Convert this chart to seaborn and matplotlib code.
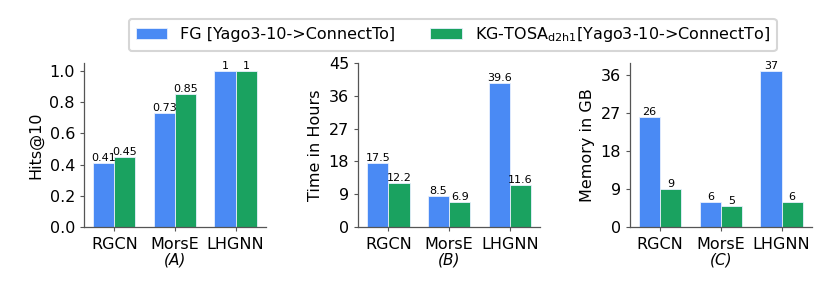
import matplotlib
matplotlib.use("Agg")
import matplotlib.pyplot as plt
import seaborn as sns
import pandas as pd

models = ["RGCN", "MorsE", "LHGNN"]
series = ["FG [Yago3-10->ConnectTo]", r"KG-TOSA$_{\mathrm{d2h1}}$[Yago3-10->ConnectTo]"]
hits_fg = [0.41, 0.73, 1.0]
hits_kg = [0.45, 0.85, 1.0]
time_fg = [17.5, 8.5, 39.6]
time_kg = [12.2, 6.9, 11.6]
mem_fg = [26, 6, 37]
mem_kg = [9, 5, 6]
ylabels = ["Hits@10", "Time in Hours", "Memory in GB"]
panel_tags = ["(A)", "(B)", "(C)"]
colors = ["#4a8af4", "#1aa260"]

sns.set_style("ticks")
plt.rcParams["font.family"] = ["DejaVu Sans"]
plt.rcParams["text.color"] = "black"
plt.rcParams["axes.labelcolor"] = "black"
plt.rcParams["xtick.color"] = "black"
plt.rcParams["ytick.color"] = "black"

fig = plt.figure(figsize=(8.31, 2.89), dpi=100)
lefts = [0.101, 0.431, 0.758]
axes = [fig.add_axes([l, 0.2145, 0.219, 0.567]) for l in lefts]

datasets = [(hits_fg, hits_kg), (time_fg, time_kg), (mem_fg, mem_kg)]
for i, (ax, (fg, kg)) in enumerate(zip(axes, datasets)):
    df = pd.DataFrame({
        "model": models * 2,
        "value": fg + kg,
        "series": [series[0]] * 3 + [series[1]] * 3,
    })
    sns.barplot(data=df, x="model", y="value", hue="series", order=models,
                hue_order=series, palette=colors, width=0.7, ax=ax,
                edgecolor="#e8f0fe", linewidth=0.6, saturation=1, legend=(i == 0))
    for c in ax.containers:
        ax.bar_label(c, fmt="{:g}", fontsize=8, padding=0, color="black")
    ax.set_ylabel(ylabels[i], fontsize=11.5)
    ax.set_xlabel(panel_tags[i], fontsize=11, style="italic", labelpad=0.5)
    ax.tick_params(axis="both", labelsize=11.5, length=3, width=0.8,
                   color="#555555", labelcolor="black")
    ax.tick_params(axis="x", pad=4)
    ax.set_xlim(-0.5, 2.5)
    for s in ["left", "bottom"]:
        ax.spines[s].set_color("#555555")
        ax.spines[s].set_linewidth(0.9)
    sns.despine(ax=ax)

axes[0].set_yticks([0.0, 0.2, 0.4, 0.6, 0.8, 1.0])
axes[1].set_ylim(0, 45)
axes[1].set_yticks([0, 9, 18, 27, 36, 45])
axes[2].set_ylim(0, 38.85)
axes[2].set_yticks([0, 9, 18, 27, 36])

handles, labels = axes[0].get_legend_handles_labels()
axes[0].get_legend().remove()
leg = fig.legend(handles, labels, loc="center", bbox_to_anchor=(0.545, 0.879), ncol=2,
                 fontsize=11.5, frameon=True, fancybox=True, columnspacing=2.2,
                 handlelength=2.0, borderpad=0.4)
leg.get_frame().set_edgecolor("#cccccc")
leg.get_frame().set_linewidth(1.5)

fig.savefig("out.png", dpi=100)
